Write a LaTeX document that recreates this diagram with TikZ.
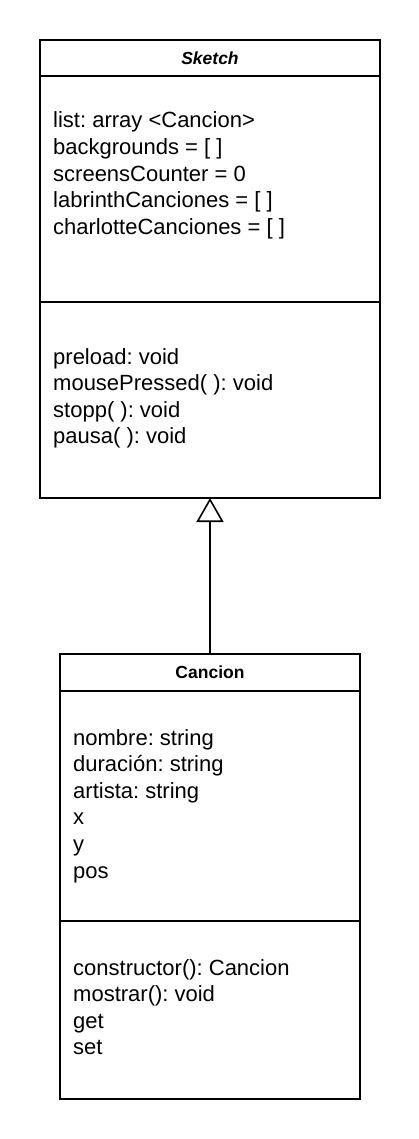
\documentclass[tikz,border=0pt]{standalone}
\usepackage{fontspec}
\setmainfont{Liberation Sans}
\frenchspacing
\usetikzlibrary{positioning,arrows.meta}
\tikzset{
  compartiment/.style={draw, line width=1.6pt, inner sep=0pt, outer sep=0pt, minimum width=#1},
  compartiment/.default=340pt,
  titre/.style={font=\fontsize{17.5}{21}\selectfont\bfseries},
  membre/.style={anchor=base west, inner sep=0pt, font=\fontsize{22}{26.5}\selectfont},
  heritage/.style={-{Triangle[open, length=24pt, width=27pt]}, line width=1.6pt},
}
\begin{document}
\begin{tikzpicture}[x=1pt, y=-1pt]
  \useasboundingbox (0,0) rectangle (419,1139);
  % classe Sketch
  \node[compartiment, minimum height=36pt, anchor=north west, titre,
    font=\fontsize{17.5}{21}\selectfont\bfseries\itshape] (sketchTitre) at (40,40) {Sketch};
  \node[compartiment, minimum height=226pt, below=0pt of sketchTitre] (sketchAttr) {};
  \node[compartiment, minimum height=196pt, below=0pt of sketchAttr] (sketchOps) {};
  \foreach \ligne [count=\k] in {list: array <Cancion>, backgrounds = [ ], screensCounter = 0,
      labrinthCanciones = [ ], charlotteCanciones = [ ]} {
    \node[membre] (sketchA\k) at (53,{128+(\k-1)*26.6}) {\ligne};
  }
  \foreach \ligne [count=\k] in {preload: void, mousePressed( ): void, stopp( ): void, pausa( ): void} {
    \node[membre] (sketchM\k) at (53,{364+(\k-1)*26.6}) {\ligne};
  }
  % classe Cancion
  \node[compartiment=300pt, minimum height=37pt, anchor=north west, titre] (cancionTitre) at (60,654) {Cancion};
  \node[compartiment=300pt, minimum height=230pt, below=0pt of cancionTitre] (cancionAttr) {};
  \node[compartiment=300pt, minimum height=178pt, below=0pt of cancionAttr] (cancionOps) {};
  \foreach \ligne [count=\k] in {nombre: string, duración: string, artista: string, x, y, pos} {
    \node[membre] (cancionA\k) at (73,{745+(\k-1)*26.6}) {\ligne};
  }
  \foreach \ligne [count=\k] in {constructor(): Cancion, mostrar(): void, get, set} {
    \node[membre] (cancionM\k) at (73,{975+(\k-1)*26.6}) {\ligne};
  }
  % héritage
  \draw[heritage] (cancionTitre.north) -- (sketchOps.south);
\end{tikzpicture}
\end{document}
